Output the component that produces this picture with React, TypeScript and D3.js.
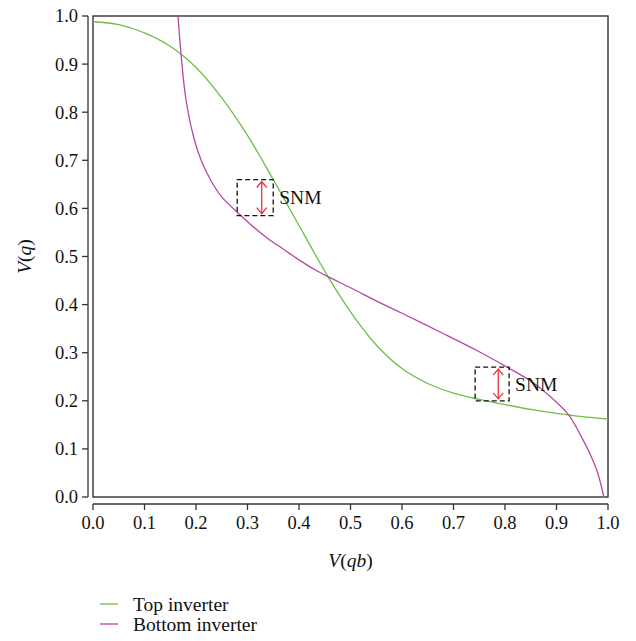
import React from "react";
import * as d3 from "d3";

const topX = [0.0, 0.05, 0.1, 0.15, 0.2, 0.25, 0.3, 0.35, 0.394, 0.458, 0.5, 0.55, 0.6, 0.65, 0.7, 0.75, 0.8, 0.85, 0.9, 0.95, 1.0];
const topY = [0.988, 0.982, 0.965, 0.937, 0.893, 0.83, 0.752, 0.66, 0.576, 0.455, 0.385, 0.316, 0.267, 0.236, 0.216, 0.203, 0.192, 0.182, 0.174, 0.167, 0.162];

const botX = [0.165, 0.171, 0.18, 0.195, 0.21, 0.23, 0.25, 0.28, 0.31, 0.34, 0.37, 0.4, 0.43, 0.458, 0.5, 0.557, 0.6, 0.674, 0.75, 0.804, 0.85, 0.9, 0.924, 0.95, 0.965, 0.98, 0.992];
const botY = [1.0, 0.92, 0.83, 0.75, 0.7, 0.656, 0.624, 0.592, 0.563, 0.537, 0.515, 0.493, 0.473, 0.457, 0.435, 0.404, 0.382, 0.343, 0.302, 0.27, 0.241, 0.197, 0.17, 0.122, 0.09, 0.05, 0.0];

const ticks = [0, 0.1, 0.2, 0.3, 0.4, 0.5, 0.6, 0.7, 0.8, 0.9, 1.0];

// SNM boxes: [x0, x1, y0, y1]
const snmBoxes = [
  [0.28, 0.35, 0.585, 0.66],
  [0.742, 0.808, 0.2, 0.27],
];
const snmLabel = "SNM";
const legendItems = ["Top inverter", "Bottom inverter"];

const GREEN = "#6cbf45";
const PURPLE = "#b5489f";
const RED = "#e8353b";
const FONT = "Liberation Serif, DejaVu Serif, serif";

export default function App() {
  const W = 636, H = 641;
  const left = 93, right = 608, top = 16, bottom = 497;
  const x = d3.scaleLinear().domain([0, 1]).range([left, right]);
  const y = d3.scaleLinear().domain([0, 1]).range([bottom, top]);

  const line = d3
    .line<[number, number]>()
    .x((d) => x(d[0]))
    .y((d) => y(d[1]))
    .curve(d3.curveCatmullRom.alpha(0.5));

  const topPts = topX.map((v, i) => [v, topY[i]] as [number, number]);
  const botPts = botX.map((v, i) => [v, botY[i]] as [number, number]);

  const yAxisX = 88;
  const xAxisY = 504;
  const axisColor = "#333";
  const txt = { fontFamily: FONT };

  return (
    <svg width={W} height={H} style={{ position: "absolute", left: 0, top: 0, background: "#fff", fontFamily: FONT }}>
      <rect x={0} y={0} width={W} height={H} fill="#fff" />
      {/* plot frame */}
      <rect x={left} y={top} width={right - left} height={bottom - top} fill="none" stroke={axisColor} strokeWidth={1.4} />

      {/* y axis */}
      <line x1={yAxisX} x2={yAxisX} y1={y(0)} y2={y(1)} stroke={axisColor} strokeWidth={1.3} />
      {ticks.map((t) => (
        <g key={"y" + t}>
          <line x1={yAxisX - 6} x2={yAxisX} y1={y(t)} y2={y(t)} stroke={axisColor} strokeWidth={1.3} />
          <text x={yAxisX - 10} y={y(t)} dy="0.35em" textAnchor="end" fontSize={18.5} fill="#111" style={txt}>
            {t.toFixed(1)}
          </text>
        </g>
      ))}

      {/* x axis */}
      <line x1={x(0)} x2={x(1)} y1={xAxisY} y2={xAxisY} stroke={axisColor} strokeWidth={1.3} />
      {ticks.map((t) => (
        <g key={"x" + t}>
          <line x1={x(t)} x2={x(t)} y1={xAxisY} y2={xAxisY + 6} stroke={axisColor} strokeWidth={1.3} />
          <text x={x(t)} y={xAxisY + 25} textAnchor="middle" fontSize={18.5} fill="#111" style={txt}>
            {t.toFixed(1)}
          </text>
        </g>
      ))}

      {/* axis titles */}
      <text x={(left + right) / 2} y={567} textAnchor="middle" fontSize={19.5} fill="#111" style={txt}>
        <tspan fontStyle="italic">V</tspan>
        <tspan>(</tspan>
        <tspan fontStyle="italic">qb</tspan>
        <tspan>)</tspan>
      </text>
      <text transform={`translate(31,${(top + bottom) / 2}) rotate(-90)`} textAnchor="middle" fontSize={19.5} fill="#111" style={txt}>
        <tspan fontStyle="italic">V</tspan>
        <tspan>(</tspan>
        <tspan fontStyle="italic">q</tspan>
        <tspan>)</tspan>
      </text>

      {/* curves */}
      <path d={line(topPts) || ""} fill="none" stroke={GREEN} strokeWidth={1.3} />
      <path d={line(botPts) || ""} fill="none" stroke={PURPLE} strokeWidth={1.3} />

      {/* SNM annotations */}
      {snmBoxes.map((b, i) => {
        const x0 = x(b[0]), x1 = x(b[1]), y0 = y(b[3]), y1 = y(b[2]);
        const ax = x0 + (x1 - x0) * 0.68;
        const at = y0 + 2, ab = y1 - 2;
        return (
          <g key={"snm" + i}>
            <rect x={x0} y={y0} width={x1 - x0} height={y1 - y0} fill="none" stroke="#111" strokeWidth={1.3} strokeDasharray="5,3" />
            <line x1={ax} x2={ax} y1={at} y2={ab} stroke={RED} strokeWidth={1.3} />
            <path d={`M${ax - 5},${at + 6} L${ax},${at} L${ax + 5},${at + 6}`} fill="none" stroke={RED} strokeWidth={1.3} />
            <path d={`M${ax - 5},${ab - 6} L${ax},${ab} L${ax + 5},${ab - 6}`} fill="none" stroke={RED} strokeWidth={1.3} />
            <text x={x1 + 6} y={(y0 + y1) / 2} dy="0.35em" fontSize={19.5} fill="#111" style={txt}>
              {snmLabel}
            </text>
          </g>
        );
      })}

      {/* legend */}
      {legendItems.map((name, i) => (
        <g key={name}>
          <line x1={100} x2={118} y1={604 + i * 20} y2={604 + i * 20} stroke={i === 0 ? GREEN : PURPLE} strokeWidth={1.3} />
          <text x={133} y={604 + i * 20} dy="0.35em" fontSize={19.5} fill="#111" style={txt}>
            {name}
          </text>
        </g>
      ))}
    </svg>
  );
}
